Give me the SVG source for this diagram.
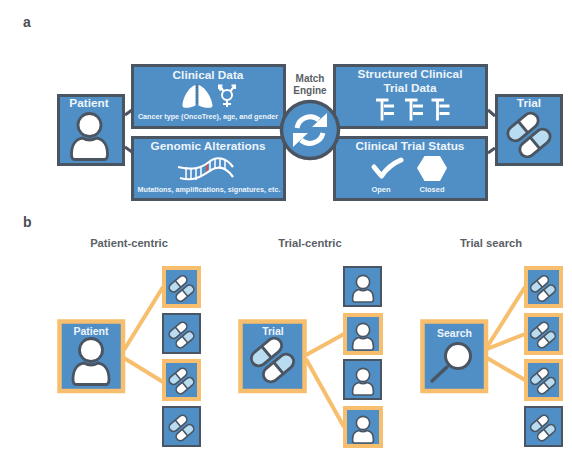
<svg xmlns="http://www.w3.org/2000/svg" xmlns:xlink="http://www.w3.org/1999/xlink" width="572" height="458" viewBox="0 0 572 458">
<style>
text{font-family:"Liberation Sans",Arial,sans-serif;font-weight:bold;text-anchor:middle}
.box{fill:#4f8fc6;stroke:#4b5562;stroke-width:3}
.sb{fill:#4f8fc6;stroke:#4b5562;stroke-width:2}
.ob{fill:#4f8fc6;stroke:#f6be6d;stroke-width:4}
.big{fill:#4f8fc6;stroke:#f6be6d;stroke-width:4.5}
.wt{fill:#eef4fa}
.h1{font-size:11.800px}
.h2{font-size:7.200px}
.h3{font-size:7.500px}
.h4{font-size:10.500px}
.ttl{font-size:11.200px;fill:#5a5f66}
.me{font-size:10px;fill:#5a5f66}
.tag{font-size:14px;fill:#4b4f55;text-anchor:start}
.dk{stroke:#4b5562;stroke-width:3;fill:none}
.or{stroke:#f6be6d;stroke-width:4;fill:none}
.w{stroke:#fff;fill:none}
</style>
<defs>
<g id="person">
<circle cx="0" cy="0" r="11.500" fill="#fff" stroke="#4b5562" stroke-width="2.800"/>
<path d="M-15,34.500 Q-18,34.500 -18,29 C-18,19 -13,14 -7,13 Q0,17 7,13 C13,14 18,19 18,29 Q18,34.500 15,34.500Z" fill="#fff" stroke="#4b5562" stroke-width="2.800"/>
</g>
<g id="pill">
<path d="M0,-7.500H-10A7.500,7.500 0 0 0 -10,7.500H0Z" fill="#b9dcf0"/>
<path d="M0,-7.500H10A7.500,7.500 0 0 1 10,7.500H0Z" fill="#fff"/>
<rect x="-17.500" y="-7.500" width="35" height="15" rx="7.500" fill="none" stroke="#4b5562" stroke-width="2.800"/>
<path d="M0,-7.500V7.500" stroke="#4b5562" stroke-width="2.800"/>
</g>
<g id="pills">
<use xlink:href="#pill" href="#pill" transform="translate(-6,-8) rotate(-40)"/>
<use xlink:href="#pill" href="#pill" transform="translate(6,8) rotate(140)"/>
</g>
<g id="ft">
<path d="M0,1.500H12.500M6,1V22M8,7.500H18M8,15H18" stroke="#fff" stroke-width="2.800" fill="none"/>
</g>
</defs>
<rect width="572" height="458" fill="#fff"/>
<text x="23" y="27" class="tag">a</text>
<text x="23" y="227" class="tag">b</text>

<g id="connectors">
<path class="dk" d="M125,115L132,110M125,147L132,152M488,110L495,116M488,153L495,148"/>
<path class="or" d="M124,350L163,287M124,358L163,382"/>
<path class="or" d="M306,355L344,334M306,359L344,427"/>
<path class="or" d="M487,347L525,287M487,349L525,334M487,358L525,380"/>
</g>

<g id="patient-a">
<rect class="box" x="58.500" y="95.500" width="65" height="69"/>
<text x="89" y="107" class="h1 wt">Patient</text>
<use xlink:href="#person" href="#person" transform="translate(89.500,125)"/>
</g>
<g id="clinical-data">
<rect class="box" x="132.500" y="65.500" width="152" height="62"/>
<text x="208" y="79" class="h1 wt">Clinical Data</text>
<path d="M195.500,85C188,87 182,100 182.500,106C183,109 190,108 195.500,105.500Z" fill="#fff"/>
<path d="M198.500,85C206,87 212.500,100 212.500,106C212,109 204,108 198.500,105.500Z" fill="#fff"/>
<path d="M197,84V104" stroke="#4b5562" stroke-width="1" stroke-dasharray="1.500 1"/>
<g fill="none" stroke="#fff" stroke-width="2">
<circle cx="227" cy="95" r="5"/>
<path d="M227,100V107M223,104H231M223.500,91L219,85.500M219,89V85.500H222.500M230.500,91L235,85.500M235,89V85.500H231.500M219.500,90.500L222.500,87.500"/>
</g>
<text x="208" y="119" class="h2 wt">Cancer type (OncoTree), age, and gender</text>
</g>
<g id="genomic-alterations">
<rect class="box" x="132.500" y="137.500" width="152" height="62"/>
<text x="208" y="150" class="h1 wt">Genomic Alterations</text>
<g fill="none" stroke="#fff" stroke-width="1.500">
<path d="M186,167V179M191,168V180M196,168V180M201,167V177M210,161V172M215,159V169M220,158V168M225,159V170"/>
</g>
<path d="M207,162V174" stroke="#c0555a" stroke-width="2"/>
<path d="M178,167C192,170 200,169 209,162C216,156 226,157 233,167" fill="none" stroke="#fff" stroke-width="2.200"/>
<path d="M180,178C194,182 202,176 211,170C218,166 226,167 233,177" fill="none" stroke="#fff" stroke-width="2.200"/>
<text x="209" y="191.500" class="h2 wt">Mutations, amplifications, signatures, etc.</text>
</g>
<g id="structured-data">
<rect class="box" x="334.500" y="65.500" width="152" height="62"/>
<text x="410" y="78" class="h1 wt">Structured Clinical</text>
<text x="410" y="92" class="h1 wt">Trial Data</text>
<use xlink:href="#ft" href="#ft" transform="translate(376,98.500)"/>
<use xlink:href="#ft" href="#ft" transform="translate(405,98.500)"/>
<use xlink:href="#ft" href="#ft" transform="translate(431.500,98.500)"/>
</g>
<g id="trial-status">
<rect class="box" x="334.500" y="137.500" width="152" height="62"/>
<text x="410" y="150" class="h1 wt">Clinical Trial Status</text>
<path d="M374,167L381.500,176Q389,165 401,160" fill="none" stroke="#fff" stroke-width="5" stroke-linejoin="round" stroke-linecap="round"/>
<path d="M417,168L424.500,156H440L447,168L440,181H424.500Z" fill="#fff"/>
<text x="381" y="192" class="h3 wt">Open</text>
<text x="432" y="192" class="h3 wt">Closed</text>
</g>
<g id="trial-a">
<rect class="box" x="496.500" y="95.500" width="65" height="69"/>
<text x="529" y="107" class="h1 wt">Trial</text>
<use xlink:href="#pills" href="#pills" transform="translate(529,135)"/>
</g>
<g id="match-engine">
<text x="310" y="82" class="me">Match</text>
<text x="310" y="94" class="me">Engine</text>
<circle cx="310" cy="130" r="28.500" fill="#4f8fc6" stroke="#4b5562" stroke-width="3.500"/>
<g transform="translate(310,130)">
<path d="M-13,-2A13.500,13.500 0 0 1 9,-10" class="w" stroke-width="5"/>
<path d="M2,-3L17,-3L17,-17Z" fill="#fff"/>
<path d="M13,3A13.500,13.500 0 0 1 -9,10" class="w" stroke-width="5"/>
<path d="M-2,3L-17,3L-17,17Z" fill="#fff"/>
</g>
</g>

<text x="129" y="247" class="ttl">Patient-centric</text>
<text x="310" y="247" class="ttl">Trial-centric</text>
<text x="491" y="247" class="ttl">Trial search</text>

<g id="patient-b">
<rect class="big" x="59.500" y="321.500" width="63.500" height="69.500"/>
<text x="91" y="335" class="h4 wt">Patient</text>
<use xlink:href="#person" href="#person" transform="translate(91,350)"/>
</g>
<g id="pb1"><rect class="ob" x="164" y="268" width="35" height="38"/><use xlink:href="#pills" href="#pills" transform="translate(181.500,288.500) scale(.58)"/></g>
<g id="pb2"><rect class="sb" x="163" y="314" width="37" height="39"/><use xlink:href="#pills" href="#pills" transform="translate(181.500,335) scale(.58)"/></g>
<g id="pb3"><rect class="ob" x="164" y="361" width="35" height="38"/><use xlink:href="#pills" href="#pills" transform="translate(181.500,381) scale(.58)"/></g>
<g id="pb4"><rect class="sb" x="163" y="407" width="37" height="39"/><use xlink:href="#pills" href="#pills" transform="translate(181.500,428) scale(.58)"/></g>

<g id="trial-b">
<rect class="big" x="240.500" y="321.500" width="64" height="69.500"/>
<text x="273" y="335" class="h4 wt">Trial</text>
<use xlink:href="#pills" href="#pills" transform="translate(272.500,360)"/>
</g>
<g id="tb1"><rect class="sb" x="344" y="267" width="37" height="39"/><use xlink:href="#person" href="#person" transform="translate(363,282) scale(.58)"/></g>
<g id="tb2"><rect class="ob" x="345" y="315" width="36" height="38"/><use xlink:href="#person" href="#person" transform="translate(363,330) scale(.58)"/></g>
<g id="tb3"><rect class="sb" x="344" y="360" width="37" height="39"/><use xlink:href="#person" href="#person" transform="translate(363,375) scale(.58)"/></g>
<g id="tb4"><rect class="ob" x="345" y="408" width="36" height="38"/><use xlink:href="#person" href="#person" transform="translate(363,423) scale(.58)"/></g>

<g id="search-b">
<rect class="big" x="422.500" y="321.500" width="63.500" height="69.500"/>
<text x="454.500" y="337" class="h4 wt">Search</text>
<path d="M447,367L432,381" stroke="#4b5562" stroke-width="3.500" stroke-linecap="round"/>
<circle cx="458" cy="356" r="12.500" fill="#fff" stroke="#4b5562" stroke-width="3"/>
</g>
<g id="sb1"><rect class="ob" x="526" y="268" width="35" height="38"/><use xlink:href="#pills" href="#pills" transform="translate(543,288.500) scale(.58)"/></g>
<g id="sb2"><rect class="ob" x="526" y="315" width="35" height="38"/><use xlink:href="#pills" href="#pills" transform="translate(543,335) scale(.58)"/></g>
<g id="sb3"><rect class="ob" x="526" y="361" width="35" height="38"/><use xlink:href="#pills" href="#pills" transform="translate(543,381) scale(.58)"/></g>
<g id="sb4"><rect class="sb" x="525" y="407" width="37" height="39"/><use xlink:href="#pills" href="#pills" transform="translate(543,428) scale(.58)"/></g>
</svg>
